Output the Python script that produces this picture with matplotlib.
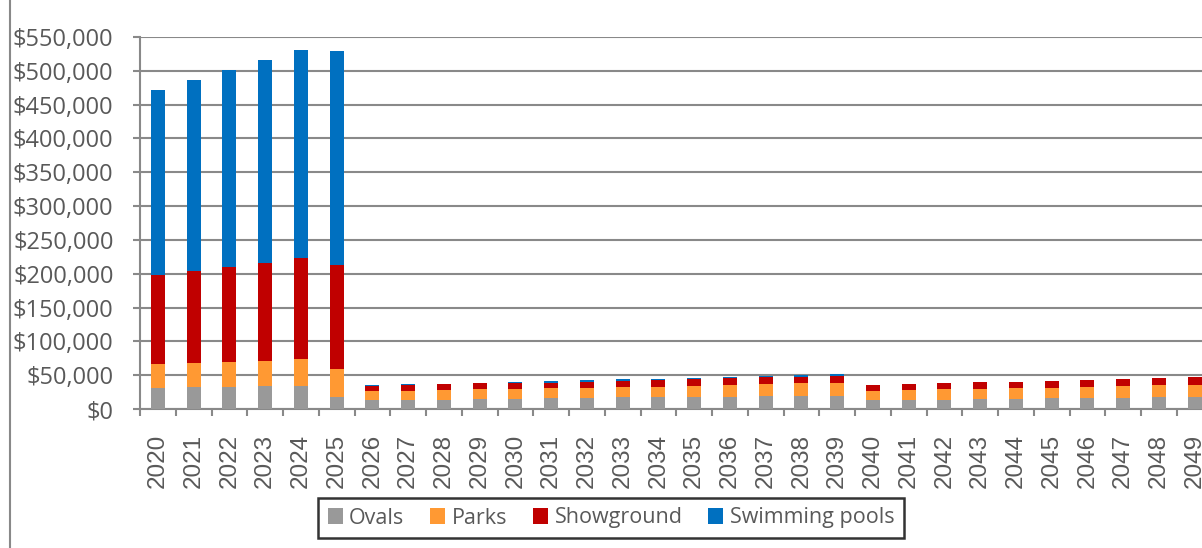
import matplotlib
matplotlib.use('Agg')
import matplotlib.pyplot as plt
from matplotlib.patches import Rectangle
import matplotlib.ticker as mticker
import numpy as np

years = [str(y) for y in range(2020, 2050)]

ovals = [30600, 32000, 32500, 33500, 34500, 17700,
         12800, 13800, 13800, 14300, 15300, 15800, 16300, 17300, 17300,
         17700, 18200, 18700, 19200, 19700, 13800, 13800, 13800, 14300,
         14800, 15800, 15800, 16700, 17300, 17700]
parks = [35500, 35500, 37000, 37900, 39400, 40900,
         13800, 13200, 14300, 14800, 14700, 14800, 15200, 15700, 15700,
         16800, 17300, 18300, 18800, 18700, 13200, 14300, 15300, 15700,
         16200, 15700, 16700, 17300, 17700, 18200]
showground = [131900, 136900, 140900, 144900, 149300, 153700,
              6900, 8000, 8400, 8900, 8000, 8300, 8900, 8800, 9900,
              9400, 9900, 9800, 9800, 10800, 8500, 8900, 9300, 9400,
              9400, 10300, 10400, 10300, 10800, 10900]
pools = [273500, 281400, 290200, 299100, 307400, 316300,
         2000, 2000, 900, 900, 2400, 2500, 2500, 2100, 1900,
         2400, 2400, 2400, 2500, 2500, 0, 0, 0, 0,
         0, 0, 0, 0, 0, 0]

series = [
    ('Ovals', ovals, '#999999'),
    ('Parks', parks, '#FF9933'),
    ('Showground', showground, '#C00000'),
    ('Swimming pools', pools, '#0070C0'),
]

W, H = 1202, 548
fig = plt.figure(figsize=(W / 100, H / 100), dpi=100)
ax = fig.add_axes([140 / W, 1 - 409 / H, 30 * 35.75 / W, (409 - 37) / H])

grid_c = '#898989'
text_c = '#595959'

x = np.arange(len(years))
bottom = np.zeros(len(years))
for name, vals, color in series:
    vals = np.array(vals, dtype=float)
    ax.bar(x, vals, width=0.39, bottom=bottom, color=color, label=name, zorder=3)
    bottom += vals

ax.set_xlim(-0.5, len(years) - 0.5)
ax.set_ylim(0, 550000)
ax.yaxis.set_major_locator(mticker.MultipleLocator(50000))
ax.yaxis.set_major_formatter(mticker.FuncFormatter(lambda v, p: f'${v:,.0f}'))
ax.grid(axis='y', color=grid_c, linewidth=1.5, zorder=0)

ax.set_xticks(x)
ax.set_xticklabels(years, rotation=90, fontsize=17.5, family='Liberation Sans', color=text_c)
ax.set_xticks(np.arange(len(years) + 1) - 0.5, minor=True)
ax.tick_params(axis='x', which='major', length=0, pad=18)
ax.tick_params(axis='x', which='minor', length=5, width=1.5, color=grid_c, direction='out')
ax.tick_params(axis='y', length=5, width=1.5, color=grid_c, direction='out', pad=14,
               labelsize=17, labelcolor=text_c)
for lbl in ax.get_yticklabels():
    lbl.set_family('Open Sans')

for side in ('top', 'right'):
    ax.spines[side].set_visible(False)
for side in ('left', 'bottom'):
    ax.spines[side].set_color(grid_c)
    ax.spines[side].set_linewidth(1.5)

leg = fig.legend(loc='center', bbox_to_anchor=(611 / W, 1 - 518 / H), ncol=4,
                 frameon=True, fancybox=False, handlelength=0.7, handleheight=0.7,
                 handletextpad=0.3, columnspacing=1.2, borderpad=0.45,
                 prop={'family': 'Open Sans', 'size': 15.5})
leg.get_frame().set_edgecolor('black')
leg.get_frame().set_linewidth(1.8)
for t in leg.get_texts():
    t.set_color(text_c)

fig.add_artist(Rectangle((10 / W, -0.2), 1.2, 1.2 + (1 - 15 / H), transform=fig.transFigure,
                         fill=False, edgecolor=grid_c, linewidth=1.5))

fig.savefig('out.png', dpi=100)
